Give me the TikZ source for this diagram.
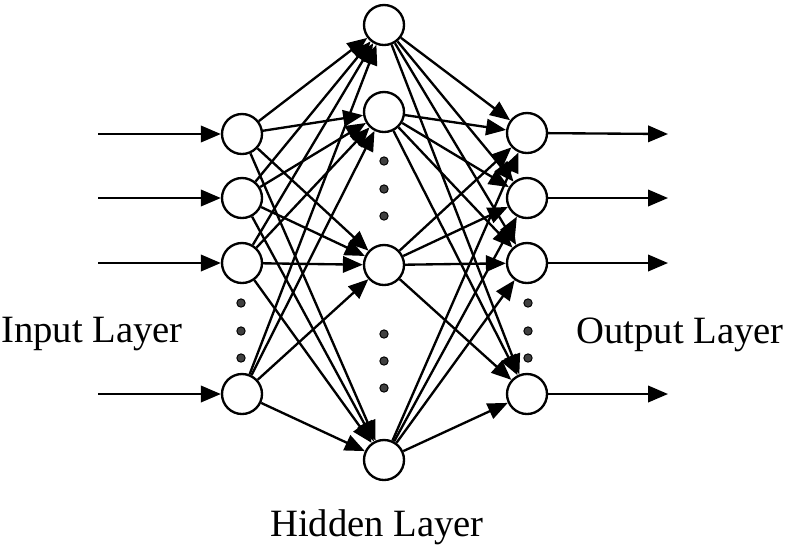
\documentclass[tikz,border=0pt]{standalone}
\usepackage{fontspec}
\setmainfont{Liberation Serif}
\usetikzlibrary{arrows.meta, positioning}
\tikzstyle{neuron}=[draw, shape=circle, line width=2pt, minimum size=1.2cm, inner sep=0pt]
\tikzstyle{gap}=[draw, shape=circle, fill=black!75, inner sep=0pt, minimum size=0.25cm, line width=0.8pt]
\tikzstyle{conn}=[line width=2pt, -{Triangle[length=17pt, width=14pt]}]
\tikzstyle{lbl}=[font=\fontsize{33}{36}\selectfont, anchor=base, inner sep=0pt]

\begin{document}
\begin{tikzpicture}[x=0.03cm, y=-0.03cm]
\useasboundingbox (0,0) rectangle (796,548);
% input layer
\node[neuron] (I1) at (242,134) {};
\node[neuron] (I2) at (242,198) {};
\node[neuron] (I3) at (242,263) {};
\node[neuron] (I4) at (242,394) {};
% hidden layer
\node[neuron] (H1) at (384,25) {};
\node[neuron] (H2) at (384,112) {};
\node[neuron] (H3) at (384,265) {};
\node[neuron] (H4) at (384,460) {};
% output layer
\node[neuron] (O1) at (527,133) {};
\node[neuron] (O2) at (527,198) {};
\node[neuron] (O3) at (527,263) {};
\node[neuron] (O4) at (527,394) {};

% skipped units
\foreach \y [count=\k] in {303,331,358} {
  \node[gap] (Id\k) at (241,\y) {};
  \node[gap] (Od\k) at (528,\y) {};
}
\foreach \y [count=\k] in {161,189,216,334,361,388} {
  \node[gap] (Hd\k) at (384,\y) {};
}

% inputs and outputs
\foreach \i/\y in {1/134,2/198,3/263,4/394} {
  \coordinate (in\i) at (98,\y);
  \coordinate (out\i) at (668,\y);
  \draw[conn] (in\i) -- (I\i);
}
\foreach \i in {1,...,4} {
  \draw[conn] (O\i) -- (out\i);
}

% weights
\foreach \i in {1,...,4}
  \foreach \j in {1,...,4} {
    \draw[conn] (I\i) -- (H\j);
    \draw[conn] (H\i) -- (O\j);
  }

\node[lbl] (inlbl) at (92,342) {Input Layer};
\node[lbl] (outlbl) at (680,343) {Output Layer};
\node[lbl] (hidlbl) at (377,536) {Hidden Layer};
\end{tikzpicture}
\end{document}
